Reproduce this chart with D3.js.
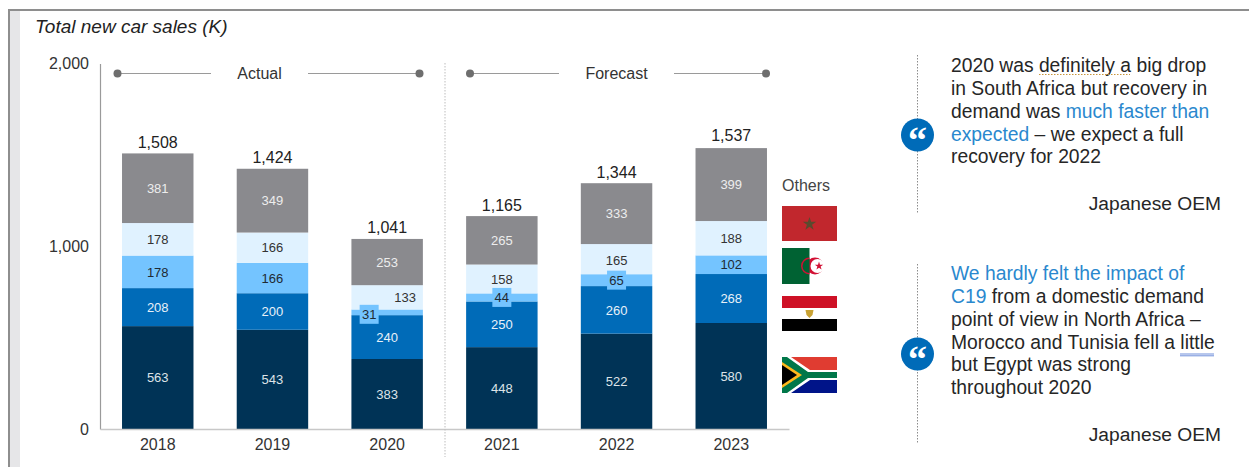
<!DOCTYPE html>
<html>
<head>
<meta charset="utf-8">
<script src="https://cdn.jsdelivr.net/npm/d3@7/dist/d3.min.js"></script>
<style>
html, body { margin: 0; padding: 0; background: #fff; overflow: hidden; }
svg { display: block; font-family: "Liberation Sans", Arial, sans-serif; }
</style>
</head>
<body>
<svg id="chart" width="1249" height="467"></svg>
<script>
// Sales in thousands of units, one array per market, bottom of the stack first.
const years = ["2018", "2019", "2020", "2021", "2022", "2023"];
const southAfrica = [563, 543, 383, 448, 522, 580];
const egypt = [208, 200, 240, 250, 260, 268];
const algeria = [178, 166, 31, 44, 65, 102];
const morocco = [178, 166, 133, 158, 165, 188];
const others = [381, 349, 253, 265, 333, 399];
const totals = [1508, 1424, 1041, 1165, 1344, 1537];
const yTicks = [0, 1000, 2000];

const seriesNames = ["southAfrica", "egypt", "algeria", "morocco", "others"];
const seriesValues = [southAfrica, egypt, algeria, morocco, others];
const fills = ["#003356", "#006BB8", "#74C4FF", "#E0F2FF", "#8A8A8E"];
const labelFills = ["#DDE3E8", "#E8F1F8", "#1F2A33", "#333333", "#EDEDED"];

const quoteOne = [
  [["2020 was definitely a big drop"]],
  [["in South Africa but recovery in"]],
  [["demand was "], ["much faster than", true]],
  [["expected", true], [" \u2013 we expect a full"]],
  [["recovery for 2022"]]
];
const quoteTwo = [
  [["We hardly felt the impact of", true]],
  [["C19", true], [" from a domestic demand"]],
  [["point of view in North Africa \u2013"]],
  [["Morocco and Tunisia fell a little"]],
  [["but Egypt was strong"]],
  [["throughout 2020"]]
];

const svg = d3.select("#chart");
const ink = "#333333";

// Outer frame: top rule, left rule and the pale strip beside it
svg.append("rect").attr("x", 10).attr("y", 11).attr("width", 10).attr("height", 456).attr("fill", "#E6E6E8");
svg.append("rect").attr("x", 8).attr("y", 9).attr("width", 1241).attr("height", 2).attr("fill", "#8E8E8E");
svg.append("rect").attr("x", 8).attr("y", 9).attr("width", 2).attr("height", 458).attr("fill", "#8E8E8E");

svg.append("text").attr("x", 35).attr("y", 33)
  .attr("font-size", 19).attr("font-style", "italic").attr("fill", "#222").text("Total new car sales (K)");

// Scales
const x = d3.scaleBand().domain(years).range([100, 789]).paddingInner(0.377).paddingOuter(0.192);
const y = d3.scaleLinear().domain([0, 2000]).range([429, 63.5]);

// Stacked bars
const rows = years.map((year, i) => {
  const row = { year };
  seriesNames.forEach((name, s) => { row[name] = seriesValues[s][i]; });
  return row;
});
const stacked = d3.stack().keys(seriesNames)(rows);

const layers = svg.append("g").selectAll("g").data(stacked).join("g")
  .attr("fill", (d, i) => fills[i]);
layers.selectAll("rect").data(d => d).join("rect")
  .attr("x", d => x(d.data.year))
  .attr("y", d => y(d[1]))
  .attr("width", x.bandwidth())
  .attr("height", d => y(d[0]) - y(d[1]));

// Small segments get their labels nudged; the thin ones sit on a tinted chip
const labelNudge = { "morocco-2020": [18, 0], "algeria-2020": [-18, 2], "morocco-2022": [0, 1] };
const chipped = new Set(["algeria-2020", "algeria-2021", "algeria-2022"]);

stacked.forEach((layer, s) => {
  layer.forEach(d => {
    const id = layer.key + "-" + d.data.year;
    const [dx, dy] = labelNudge[id] || [0, 0];
    const cx = x(d.data.year) + x.bandwidth() / 2 + dx;
    const cy = (y(d[0]) + y(d[1])) / 2 + dy;
    if (chipped.has(id)) {
      svg.append("rect").attr("x", cx - 9.5).attr("y", cy - 9.5).attr("width", 19).attr("height", 19)
        .attr("fill", fills[2]);
    }
    svg.append("text").attr("x", cx).attr("y", cy).attr("dy", "0.36em")
      .attr("text-anchor", "middle").attr("font-size", 13)
      .attr("fill", labelFills[s]).text(d[1] - d[0]);
  });
});

// Totals above each bar
svg.append("g").selectAll("text").data(years).join("text")
  .attr("x", d => x(d) + x.bandwidth() / 2)
  .attr("y", (d, i) => y(totals[i]) - (d === "2023" ? 7 : 5.5))
  .attr("text-anchor", "middle").attr("font-size", 16).attr("fill", "#222")
  .text((d, i) => d3.format(",")(totals[i]));

// Axes
const yAxis = svg.append("g").attr("transform", "translate(100,0)")
  .call(d3.axisLeft(y).tickValues(yTicks).tickSize(0).tickPadding(11).tickFormat(d3.format(",")));
yAxis.select(".domain").attr("stroke", "#9A9A9A").attr("stroke-width", 1.2);
yAxis.selectAll("text").attr("font-size", 16).attr("font-family", "inherit").attr("fill", ink);

const xAxis = svg.append("g").attr("transform", "translate(0,429)")
  .call(d3.axisBottom(x).tickSize(0).tickPadding(10));
xAxis.select(".domain").attr("stroke", "#C8C8C8").attr("stroke-width", 1.6);
xAxis.selectAll("text").attr("font-size", 16).attr("font-family", "inherit").attr("fill", ink);

// Actual / forecast brackets and the divider between them
svg.append("line").attr("x1", 445).attr("x2", 445).attr("y1", 63).attr("y2", 457)
  .attr("stroke", "#BDBDBD").attr("stroke-width", 1).attr("stroke-dasharray", "1.5 1.5");

function bracket(label, x0, x1, x2, x3) {
  const g = svg.append("g");
  [[x0, x1], [x2, x3]].forEach(([a, b]) => {
    g.append("line").attr("x1", a).attr("x2", b).attr("y1", 73.5).attr("y2", 73.5)
      .attr("stroke", "#9A9A9A").attr("stroke-width", 1.2);
  });
  [x0, x3].forEach(c => {
    g.append("circle").attr("cx", c).attr("cy", 73.5).attr("r", 4).attr("fill", "#6E6E6E");
  });
  g.append("text").attr("x", (x1 + x2) / 2).attr("y", 79).attr("text-anchor", "middle")
    .attr("font-size", 16).attr("fill", ink).text(label);
}
bracket("Actual", 117.5, 211, 308, 419.5);
bracket("Forecast", 470, 559, 674, 766);

// Legend: one flag per market, top to bottom in stack order
svg.append("text").attr("x", 782).attr("y", 191).attr("font-size", 16).attr("fill", "#444").text("Others");

const flagX = 782, flagW = 55;

// Morocco
svg.append("rect").attr("x", flagX).attr("y", 206).attr("width", flagW).attr("height", 35).attr("fill", "#C1272D");
svg.append("path").attr("d", d3.symbol(d3.symbolStar, 55)())
  .attr("transform", "translate(809.5,224)").attr("fill", "#5A4A2E");

// Algeria
svg.append("rect").attr("x", flagX).attr("y", 248).attr("width", 27.5).attr("height", 36).attr("fill", "#006233");
svg.append("circle").attr("cx", 815).attr("cy", 266).attr("r", 8.5).attr("fill", "#D21034");
svg.append("circle").attr("cx", 817.5).attr("cy", 266).attr("r", 7).attr("fill", "#fff");
svg.append("path").attr("d", d3.symbol(d3.symbolStar, 22)())
  .attr("transform", "translate(819,266)").attr("fill", "#D21034");
svg.append("path").attr("d", "M809.5,257.5A8.5,8.5 0 0 0 809.5,274.5Z").attr("fill", "#D21034");
svg.append("path").attr("d", "M809.5,259A7,7 0 0 0 809.5,273L809.5,259Z").attr("fill", "#006233");

// Egypt
svg.append("rect").attr("x", flagX).attr("y", 296).attr("width", flagW).attr("height", 12).attr("fill", "#CE1126");
svg.append("rect").attr("x", flagX).attr("y", 319).attr("width", flagW).attr("height", 12).attr("fill", "#000");
svg.append("path").attr("d", "M805.5,310H813.5L812.5,315L809.5,318L806.5,315Z").attr("fill", "#C9A233");

// South Africa
const za = svg.append("g").attr("transform", "translate(782,357)");
za.append("rect").attr("width", 55).attr("height", 18).attr("fill", "#E03C31");
za.append("rect").attr("y", 18).attr("width", 55).attr("height", 18).attr("fill", "#001489");
za.append("path").attr("d", "M0,0H9L28,13H55V23H28L9,36H0Z").attr("fill", "#fff");
za.append("path").attr("d", "M0,0H5L26,15H55V21H26L5,36H0Z").attr("fill", "#007749");
za.append("path").attr("d", "M0,5L20,18L0,31Z").attr("fill", "#FFB81C");
za.append("path").attr("d", "M0,8L15,18L0,28Z").attr("fill", "#000");

// Quote columns
function quote(lines, firstBaseline, markY, attribBaseline, ruleTop, ruleBottom) {
  svg.append("line").attr("x1", 917.5).attr("x2", 917.5).attr("y1", ruleTop).attr("y2", ruleBottom)
    .attr("stroke", "#8C8C8C").attr("stroke-width", 1).attr("stroke-dasharray", "1.5 1.5");
  svg.append("circle").attr("cx", 917.5).attr("cy", markY).attr("r", 16.5).attr("fill", "#006BB8");
  svg.append("text").attr("x", 917.5).attr("y", markY + 18).attr("text-anchor", "middle")
    .attr("font-family", "'Liberation Serif', serif").attr("font-weight", "bold")
    .attr("font-size", 38).attr("fill", "#fff").text("\u201C");
  lines.forEach((runs, i) => {
    const t = svg.append("text").attr("x", 951).attr("y", firstBaseline + i * 22.85)
      .attr("font-size", 19.3).attr("fill", "#262626").attr("xml:space", "preserve");
    runs.forEach(([str, accent]) => {
      t.append("tspan").attr("fill", accent ? "#2A88CE" : "#262626").text(str);
    });
  });
  svg.append("text").attr("x", 1221).attr("y", attribBaseline).attr("text-anchor", "end")
    .attr("font-size", 19.2).attr("fill", "#262626").text("Japanese OEM");
}
quote(quoteOne, 72, 135, 210, 55, 214);
quote(quoteTwo, 280, 354, 441, 264, 443);

// Proofing marks under two words in the quotes
svg.append("line").attr("x1", 1039).attr("x2", 1130).attr("y1", 74.5).attr("y2", 74.5)
  .attr("stroke", "#C8963C").attr("stroke-width", 1).attr("stroke-dasharray", "1.5 1.5");
svg.append("line").attr("x1", 1180).attr("x2", 1214).attr("y1", 354).attr("y2", 354)
  .attr("stroke", "#4A72D0").attr("stroke-width", 0.8);
svg.append("line").attr("x1", 1180).attr("x2", 1214).attr("y1", 355.8).attr("y2", 355.8)
  .attr("stroke", "#4A72D0").attr("stroke-width", 0.8);
</script>
</body>
</html>
